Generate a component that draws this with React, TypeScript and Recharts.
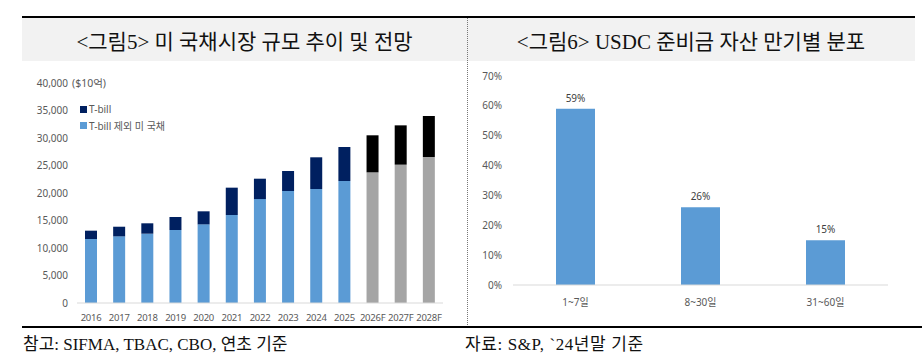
import React from 'react';
import { BarChart, Bar, XAxis, YAxis, Cell, LabelList } from 'recharts';

const years = ['2016', '2017', '2018', '2019', '2020', '2021', '2022', '2023', '2024', '2025', '2026F', '2027F', '2028F'];
const nonTbill = [11640, 12120, 12600, 13270, 14300, 16000, 18900, 20360, 20730, 22180, 23760, 25150, 26550];
const tbill = [1510, 1750, 1890, 2370, 2370, 4970, 3700, 3640, 5760, 6180, 6730, 7150, 7450];
const forecast = [false, false, false, false, false, false, false, false, false, false, true, true, true];
const leftTicks = [0, 5000, 10000, 15000, 20000, 25000, 30000, 35000, 40000];

const buckets = ['1~7일', '8~30일', '31~60일'];
const shares = [59, 26, 15];
const rightTicks = [0, 10, 20, 30, 40, 50, 60, 70];

const leftData = years.map((y, i) => ({ year: y, base: nonTbill[i], tbill: tbill[i], fc: forecast[i] }));
const rightData = buckets.map((b, i) => ({ bucket: b, share: shares[i] }));

const tickFont = { fontFamily: '"Noto Sans", "Noto Sans CJK KR", sans-serif', fontSize: 10, fill: '#595959' };
const xTickFont = { fontFamily: '"Noto Sans", "Noto Sans CJK KR", sans-serif', fontSize: 9.5, fill: '#595959', letterSpacing: -0.25 };
const serif = '"Liberation Serif", "DejaVu Serif", "Noto Sans CJK KR", serif';

export default function App() {
  return (
    <div style={{ position: 'absolute', left: 0, top: 0, width: 922, height: 354, background: '#fff', overflow: 'hidden' }}>
      {/* header band */}
      <div style={{ position: 'absolute', left: 22, top: 16, width: 893, height: 2, background: '#000' }} />
      <div style={{ position: 'absolute', left: 22, top: 18, width: 893, height: 43, background: '#F2F2F2' }} />
      <div style={{ position: 'absolute', left: 22, top: 18, width: 445, height: 43, display: 'flex', alignItems: 'center', justifyContent: 'center', fontFamily: serif, fontSize: 21, color: '#111' }}>
        {'<그림5> 미 국채시장 규모 추이 및 전망'}
      </div>
      <div style={{ position: 'absolute', left: 467, top: 18, width: 448, height: 43, display: 'flex', alignItems: 'center', justifyContent: 'center', fontFamily: serif, fontSize: 21, color: '#111' }}>
        {'<그림6> USDC 준비금 자산 만기별 분포'}
      </div>
      {/* divider */}
      <div style={{ position: 'absolute', left: 467, top: 18, width: 0, height: 309, borderLeft: '1px dotted #777' }} />
      {/* bottom line */}
      <div style={{ position: 'absolute', left: 22, top: 326, width: 900, height: 2, background: '#000' }} />
      {/* footnotes */}
      <div style={{ position: 'absolute', left: 23, top: 330, fontFamily: serif, fontSize: 17, color: '#111', whiteSpace: 'nowrap' }}>
        참고: SIFMA, TBAC, CBO, 연초 기준
      </div>
      <div style={{ position: 'absolute', left: 465, top: 330, fontFamily: serif, fontSize: 17, color: '#111', whiteSpace: 'nowrap', letterSpacing: 0.6 }}>
        자료: S&amp;P, `24년말 기준
      </div>

      {/* left chart */}
      <div style={{ position: 'absolute', left: 0, top: 0 }}>
        <BarChart width={467} height={354} data={leftData} margin={{ top: 83, right: 24, bottom: 21, left: 0 }} barSize={12}>
          <XAxis dataKey="year" interval={0} tickLine={false} axisLine={{ stroke: '#D9D9D9' }} tick={xTickFont} tickSize={6} tickMargin={5} height={30} />
          <YAxis domain={[0, 40000]} ticks={leftTicks} width={77} tickLine={false} axisLine={false} tick={tickFont} tickSize={6} tickMargin={3}
            tickFormatter={(v: number) => v.toLocaleString('en-US')} />
          <Bar dataKey="base" stackId="a" isAnimationActive={false}>
            {leftData.map((d, i) => <Cell key={i} fill={d.fc ? '#A5A5A5' : '#5B9BD5'} />)}
          </Bar>
          <Bar dataKey="tbill" stackId="a" isAnimationActive={false}>
            {leftData.map((d, i) => <Cell key={i} fill={d.fc ? '#000000' : '#002060'} />)}
          </Bar>
        </BarChart>
      </div>
      {/* unit + legend */}
      <div style={{ position: 'absolute', left: 72, top: 75, fontFamily: '"Noto Sans", "Noto Sans CJK KR", sans-serif', fontSize: 10.5, color: '#595959', whiteSpace: 'nowrap' }}>($10억)</div>
      <div style={{ position: 'absolute', left: 80, top: 106, width: 7, height: 7, background: '#002060' }} />
      <div style={{ position: 'absolute', left: 89, top: 102, fontFamily: '"Noto Sans", "Noto Sans CJK KR", sans-serif', fontSize: 10, color: '#595959', whiteSpace: 'nowrap' }}>T-bill</div>
      <div style={{ position: 'absolute', left: 80, top: 122, width: 7, height: 7, background: '#5B9BD5' }} />
      <div style={{ position: 'absolute', left: 89, top: 118, fontFamily: '"Noto Sans", "Noto Sans CJK KR", sans-serif', fontSize: 10, color: '#595959', whiteSpace: 'nowrap' }}>T-bill 제외 미 국채</div>

      {/* right chart */}
      <div style={{ position: 'absolute', left: 467, top: 0 }}>
        <BarChart width={455} height={354} data={rightData} margin={{ top: 76, right: 34, bottom: 39, left: 0 }} barSize={39}>
          <XAxis dataKey="bucket" interval={0} tickLine={false} axisLine={{ stroke: '#D9D9D9' }} tick={tickFont} tickSize={6} tickMargin={8} height={30} />
          <YAxis domain={[0, 70]} ticks={rightTicks} width={46} tickLine={false} axisLine={false} tick={tickFont} tickSize={6} tickMargin={5}
            tickFormatter={(v: number) => `${v}%`} />
          <Bar dataKey="share" fill="#5B9BD5" isAnimationActive={false}>
            <LabelList dataKey="share" position="top" offset={7} formatter={(v: any) => `${v}%`}
              style={{ fontFamily: '"Noto Sans", sans-serif', fontSize: 10, fill: '#404040' }} />
          </Bar>
        </BarChart>
      </div>
    </div>
  );
}
